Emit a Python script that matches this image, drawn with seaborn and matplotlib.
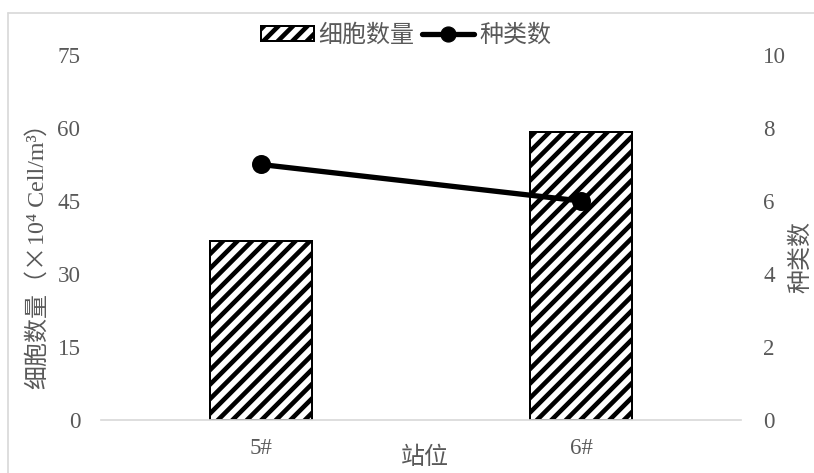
import matplotlib
matplotlib.use("Agg")
import matplotlib.pyplot as plt
from matplotlib.patches import Patch
from matplotlib.lines import Line2D
import seaborn as sns

stations = ["5#", "6#"]
cell_counts = [36.8, 59.2]
species = [7, 6]
left_ticks = [0, 15, 30, 45, 60, 75]
right_ticks = [0, 2, 4, 6, 8, 10]

DPI = 87
W, H = 814, 473


def pt(px):
    return px * 72.0 / DPI


sns.set_theme(style="white")
serif = ["Liberation Serif", "Noto Sans CJK SC", "DejaVu Sans"]
cjk = ["Noto Sans CJK SC", "DejaVu Sans"]
plt.rcParams["font.family"] = serif
plt.rcParams["hatch.linewidth"] = pt(4.6)
plt.rcParams["hatch.color"] = "black"

fig = plt.figure(figsize=(W / DPI, H / DPI), dpi=DPI)
ax = fig.add_axes([101 / W, 1 - 420 / H, 640 / W, 365 / H])
ax2 = ax.twinx()

gray = "#595959"
tick_fs = pt(23)
cjk_fs = pt(24)

sns.barplot(x=stations, y=cell_counts, ax=ax, width=0.316, color="white",
            saturation=1, edgecolor="black", linewidth=pt(2), hatch="//", zorder=2)
sns.pointplot(x=stations, y=species, ax=ax2, color="black", markers="o",
              markersize=pt(15), linewidth=pt(5.3), errorbar=None)

ax.set_xlim(-0.5, 1.5)
ax.set_ylim(0, 75)
ax.set_yticks(left_ticks)
ax2.set_ylim(0, 10)
ax2.set_yticks(right_ticks)

for a in (ax, ax2):
    for s in a.spines.values():
        s.set_visible(False)
    a.set_xlabel("")
    a.set_ylabel("")
    a.grid(False)
ax.spines["bottom"].set_visible(True)
ax.spines["bottom"].set_color("#d9d9d9")
ax.spines["bottom"].set_linewidth(pt(1.7))

ax.tick_params(axis="y", length=0, pad=pt(20.5), labelsize=tick_fs, labelcolor=gray)
ax.tick_params(axis="x", length=0, pad=pt(18.5), labelsize=tick_fs, labelcolor=gray)
ax2.tick_params(axis="y", length=0, pad=pt(22), labelsize=tick_fs, labelcolor=gray)
ax2.tick_params(axis="x", length=0)

fig.text(425 / W, 1 - 457 / H, "站位", ha="center", va="center",
         fontsize=cjk_fs, color=gray, family=cjk)
fig.text(800 / W, 1 - 257 / H, "种类数", ha="center", va="center",
         rotation=90, fontsize=cjk_fs, color=gray, family=cjk)

# left y label, built from pieces so that CJK parts use the CJK font
pieces = [("细胞数量（×", cjk), ("10⁴ Cell/m³", serif), ("）", cjk)]
renderer = fig.canvas.get_renderer()
texts, lengths = [], []
for s, fam in pieces:
    t = fig.text(0, 0, s, rotation=90, rotation_mode="anchor", ha="left",
                 va="baseline", fontsize=cjk_fs, color=gray, family=fam)
    bb = t.get_window_extent(renderer)
    texts.append(t)
    lengths.append(bb.height)
total = sum(lengths)
y0 = (H - 250) - total / 2
xb = 44
for t, L in zip(texts, lengths):
    t.set_position((xb / W, y0 / H))
    y0 += L

handles = [
    Patch(facecolor="white", edgecolor="black", hatch="//", linewidth=pt(2)),
    Line2D([], [], color="black", marker="o", markersize=pt(15), linewidth=pt(5.3)),
]
leg = fig.legend(handles, ["细胞数量", "种类数"], loc="center",
                 bbox_to_anchor=(406 / W, 1 - 35 / H), ncol=2, frameon=False,
                 prop={"family": cjk, "size": cjk_fs}, handlelength=2.2,
                 handletextpad=0.2, columnspacing=0.3, handleheight=0.55)
for t in leg.get_texts():
    t.set_color(gray)

fig.add_artist(Line2D([8 / W, 8 / W], [0, 1 - 13 / H], color="#d9d9d9",
                      linewidth=pt(1.7), transform=fig.transFigure))
fig.add_artist(Line2D([8 / W, 1], [1 - 13 / H, 1 - 13 / H], color="#d9d9d9",
                      linewidth=pt(1.7), transform=fig.transFigure))

fig.savefig("out.png", dpi=DPI)
